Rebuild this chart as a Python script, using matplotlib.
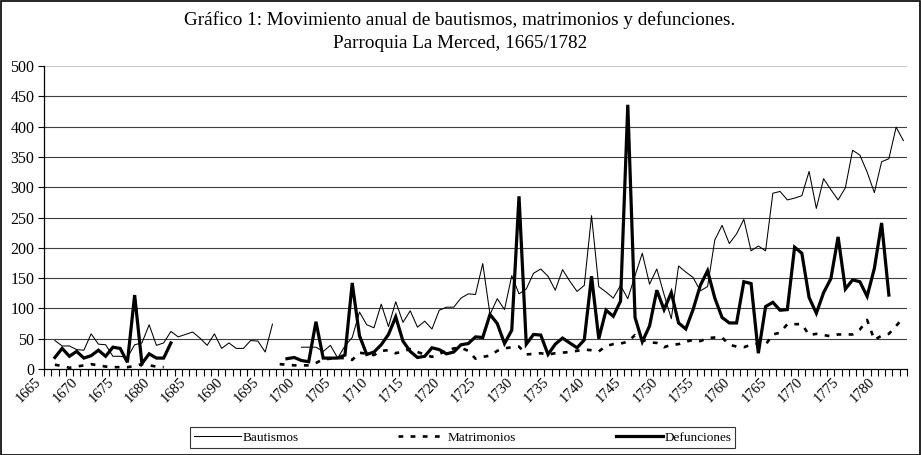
import numpy as np
import matplotlib
matplotlib.use("Agg")
import matplotlib.pyplot as plt
from matplotlib.patches import Rectangle
from matplotlib.transforms import ScaledTranslation

plt.rcParams['font.family'] = ['Liberation Serif', 'DejaVu Serif']

N = None
years = list(range(1665, 1784))

bautismos = ([N] +
    [47, 38, 38, 32, 31, 58, 41, 40, 21, 21, 19, 40, 43, 73, 39, 43, 62, 53, 57, 61,
     51, 39, 58, 34, 43, 34, 34, 47, 46, 28, 74] +
    [N, N, N] +
    [36, 36, 36, 29, 39, 18, 38, 52, 94, 73, 68, 107, 70, 111, 77, 96, 69, 79, 66, 97,
     102, 102, 117] +
    [124, 123, 174, 90, 116, 98, 154, 124, 132, 158, 165, 153, 130, 164, 145, 128, 138,
     253, 136, 127, 117, 138, 116, 154, 191, 140, 165, 123, 83, 170, 160] +
    [151, 129, 136, 213, 237, 207, 223, 247, 195, 203, 195, 290, 293, 279, 282, 286, 326,
     265, 314, 296, 279, 299, 361, 353, 325, 291, 342, 347, 399, 377])

matrimonios = ([N] +
    [7, 5, 2, 4, 6, 8, 6, 4, 3, 3, 3, 5, 8, 6, 4, 3] +
    [N] * 15 +
    [8, 7, 6, 6, 6, 10, 16, 17, 18, 18, 15, 27, 25, 23, 30, 31, 26, 29, 33, 28, 24, 20,
     25, 30, 34, 35] +
    [30, 17, 20, 22, 30, 34, 36, 37, 24, 25, 26, 24, 26, 27, 28, 30, 32, 31, 29, 38, 41,
     42, 45, 56, 48, 44, 43, 36, 40, 41, 45] +
    [48, 46, 51, 52, 52, 40, 37, 36, 40, 42, 40, 57, 60, 74, 74, 74, 56, 58, 56, 54, 57,
     57, 57, 65, 81, 48, 55, 58, 71, 85])

defunciones = ([N] +
    [19, 34, 21, 29, 18, 22, 31, 21, 36, 34, 11, 122, 9, 25, 18, 18, 43] +
    [N] * 15 +
    [17, 19, 14, 12, 78, 18, 18, 18, 23, 142, 55, 24, 28, 40, 57, 86, 46, 29, 19, 21, 35,
     32, 25, 28, 40] +
    [42, 53, 52, 90, 75, 42, 64, 285, 41, 57, 56, 24, 41, 51, 43, 35, 48, 153, 50, 97, 87,
     112, 436, 85, 45, 71, 130, 98, 126, 76, 66] +
    [98, 138, 162, 117, 85, 76, 76, 144, 141, 26, 103, 110, 97, 98, 201, 191, 118, 92, 126,
     149, 218, 132, 147, 144, 120, 166, 241, 122] +
    [N, N])

yticks = list(range(0, 501, 50))
title1 = "Gráfico 1: Movimiento anual de bautismos, matrimonios y defunciones."
title2 = "Parroquia La Merced, 1665/1782"

def arr(v):
    return np.array([np.nan if x is None else x for x in v], dtype=float)

W, H = 921, 455
fig = plt.figure(figsize=(W / 100, H / 100), dpi=100)
ax = fig.add_axes([44 / W, 1 - 369 / H, (907 - 44) / W, (369 - 66) / H])

x = np.arange(len(years))
ax.plot(x, arr(bautismos), color='black', lw=0.75, label='Bautismos', zorder=3)
ax.plot(x, arr(matrimonios), color='black', lw=1.9, linestyle=(0, (1.8, 2.8)),
        dash_capstyle='butt', label='Matrimonios', zorder=3)
ax.plot(x, arr(defunciones), color='black', lw=2.3, label='Defunciones', zorder=4,
        solid_joinstyle='miter')

ax.set_xlim(-0.5, len(years) - 0.5)
ax.set_ylim(0, 500)
ax.set_yticks(yticks)
ax.set_yticklabels([str(v) for v in yticks], fontsize=11.5)
ax.yaxis.grid(True, color='#404040', lw=0.8)
ax.set_axisbelow(True)
gl = ax.get_ygridlines()
gl[-1].set_color('#c8c8c8')
gl[0].set_visible(False)

# category tick marks at boundaries, labels every 5 years
ax.set_xticks(np.arange(-0.5, len(years), 1.0))
ax.set_xticklabels([])
ax.tick_params(axis='x', length=5, width=0.8, direction='out')
ax.tick_params(axis='y', length=4, width=0.8, direction='out', pad=3)

shift = ScaledTranslation(-13 / 100, -6 / 100, fig.dpi_scale_trans)
for i, y in enumerate(years):
    if (y - 1665) % 5 == 0 and y <= 1780:
        ax.text(i, 0, str(y), transform=ax.get_xaxis_transform() + shift,
                rotation=45, ha='right', va='top', rotation_mode='anchor',
                fontsize=10.5)

for s in ['top', 'right']:
    ax.spines[s].set_visible(False)
ax.spines['left'].set_linewidth(0.9)
ax.spines['bottom'].set_linewidth(0.9)

fig.text(460 / W, 1 - 20 / H, title1, ha='center', va='center', fontsize=13.8)
fig.text(460 / W, 1 - 43 / H, title2, ha='center', va='center', fontsize=13.8)

leg = fig.legend(loc='center', bbox_to_anchor=(183 / W, 1 - 448 / H, 559 / W, 21 / H),
                 ncol=3, mode='expand', fontsize=9.5, frameon=True, fancybox=False,
                 handlelength=3.6, borderpad=0.3, handletextpad=0.1,
                 bbox_transform=fig.transFigure)
leg.get_frame().set_edgecolor('black')
leg.get_frame().set_linewidth(0.8)

fig.patches.append(Rectangle((0.5 / W, 0.5 / H), 1 - 1.5 / W, 1 - 1.5 / H,
                             transform=fig.transFigure, fill=False,
                             edgecolor='black', lw=1.2))

fig.savefig('out.png', dpi=100)
